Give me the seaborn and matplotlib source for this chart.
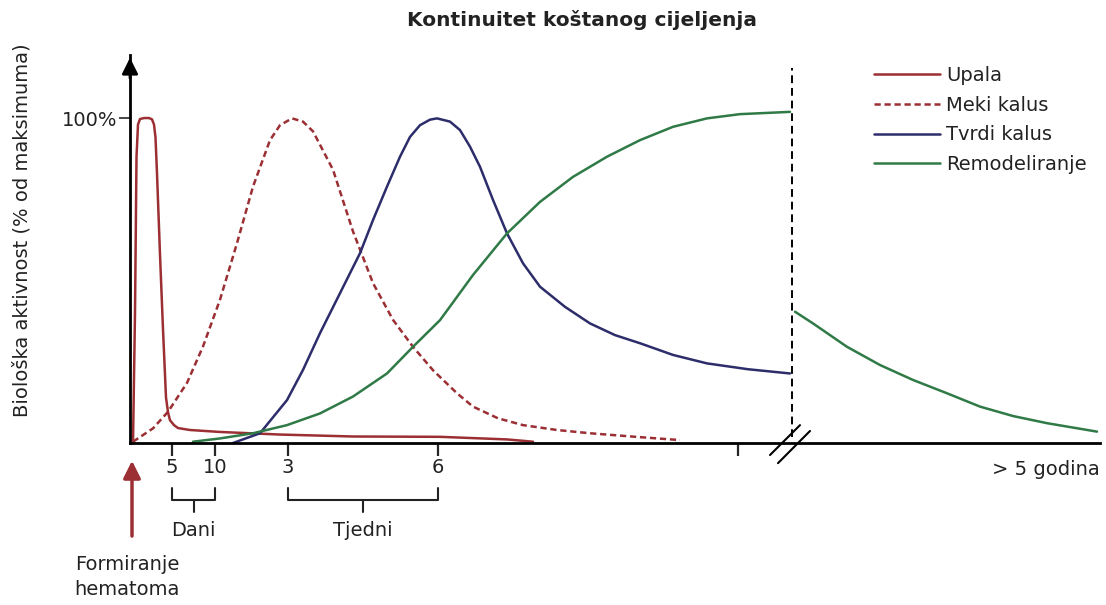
import matplotlib
matplotlib.use("Agg")
import matplotlib.pyplot as plt
import seaborn as sns

# --- curves (x in layout units, y in % of maximum) --------------------------
UPALA_X = [3, 5, 6.5, 8, 10, 14, 19, 22, 24, 25.5, 27, 30, 33, 36, 38, 40, 44, 48,
           60, 90, 150, 223, 310, 377, 403]
UPALA_Y = [0, 40, 88, 98, 99.7, 100, 100, 99.6, 98, 94, 83, 58, 35, 14, 9.5, 7, 5.5,
           4.6, 4, 3.4, 2.6, 2.0, 1.9, 1.1, 0.4]

MEKI_X = [3, 23, 38, 57, 73, 90, 107, 123, 140, 150, 162, 173, 183, 203, 223, 243,
          263, 283, 303, 327, 343, 368, 393, 427, 460, 510, 550]
MEKI_Y = [0.4, 4.5, 9.6, 18.5, 29.7, 44.1, 61.5, 78.9, 93.2, 97.8, 99.9, 98.9, 95.9,
          84.1, 65.1, 49.2, 37.9, 29.6, 22.4, 15.3, 11.2, 7.6, 5.5, 4.0, 3.0, 1.8, 0.9]

TVRDI_X = [103, 130, 157, 173, 190, 210, 230, 243, 257, 270, 280, 290, 300, 307, 320,
           330, 340, 350, 363, 377, 393, 410, 435, 460, 485, 510, 543, 577, 618, 660]
TVRDI_Y = [0, 3.0, 13.2, 22.5, 33.8, 46.1, 58.4, 68.6, 78.9, 88.1, 94.2, 97.8, 99.5,
           99.9, 98.9, 96.3, 91.2, 85.0, 74.8, 64.5, 55.3, 48.1, 41.9, 36.8, 33.2, 30.7,
           27.1, 24.5, 22.7, 21.4]

REMOD_X = [63, 90, 123, 157, 190, 223, 257, 283, 310, 343, 377, 410, 443, 477, 510,
           543, 577, 610, 660]
REMOD_Y = [0.4, 1.4, 3.0, 5.5, 9.1, 14.3, 21.4, 29.6, 37.8, 51.7, 64.5, 74.2, 81.9,
           88.1, 93.2, 97.3, 99.9, 101.2, 101.9]

# after the axis break (> 5 years)
REMOD2_X = [665, 683, 717, 750, 783, 817, 850, 883, 917, 967]
REMOD2_Y = [40.4, 36.8, 29.6, 24.0, 19.4, 15.3, 11.2, 8.3, 6.1, 3.5]

TICK_POS = [42, 85, 158, 308, 608]
TICK_LABELS = ["5", "10", "3", "6", ""]
BREAK_X = 662
X_MAX, Y_MAX = 970, 119.4

RED = "#9b2f33"
NAVY = "#2c2d6a"
GREEN = "#2f7a46"
TXT = "#222222"

sns.set_style("white")
plt.rcParams["font.family"] = ["DejaVu Sans"]

fig = plt.figure(figsize=(11.06, 6.05), dpi=100)
ax = fig.add_axes([130 / 1106, 162 / 605, 970 / 1106, 388 / 605])

sns.lineplot(x=UPALA_X, y=UPALA_Y, ax=ax, color=RED, lw=1.8, label="Upala")
sns.lineplot(x=MEKI_X, y=MEKI_Y, ax=ax, color=RED, lw=1.8, ls=(0, (2.5, 1.5)),
             label="Meki kalus")
sns.lineplot(x=TVRDI_X, y=TVRDI_Y, ax=ax, color=NAVY, lw=1.8, label="Tvrdi kalus")
sns.lineplot(x=REMOD_X, y=REMOD_Y, ax=ax, color=GREEN, lw=1.8, label="Remodeliranje")
sns.lineplot(x=REMOD2_X, y=REMOD2_Y, ax=ax, color=GREEN, lw=1.8)
for ln in ax.lines:
    ln.set_clip_on(False)
    ln.set_solid_joinstyle("round")

ax.set_xlim(0, X_MAX)
ax.set_ylim(0, Y_MAX)
sns.despine(ax=ax)
for s in ("left", "bottom"):
    ax.spines[s].set_linewidth(2)
    ax.spines[s].set_color("black")

ax.set_yticks([100])
ax.set_yticklabels(["100%"], fontsize=14, color=TXT)
ax.set_xticks(TICK_POS)
ax.set_xticklabels(TICK_LABELS, fontsize=14, color=TXT)
ax.tick_params(axis="x", direction="out", length=9, width=1.6, pad=2, bottom=True)
ax.tick_params(axis="y", direction="out", length=8, width=1.2, pad=1, left=True)

# arrow at the top of the y axis
ax.annotate("", xy=(0, Y_MAX), xytext=(0, Y_MAX - 8),
            arrowprops=dict(arrowstyle="-|>", color="black", lw=2, mutation_scale=24),
            annotation_clip=False)

# dashed line marking the axis break, and the break marks
ax.plot([BREAK_X, BREAK_X], [1.8, 115.4], color="black", lw=1.4,
        ls=(0, (4, 2.5)), clip_on=False)
ax.plot([653, 667], [0, 0], color="white", lw=4, clip_on=False, solid_capstyle="butt")
ax.plot([640, 670], [-3.7, 5.5], color="black", lw=1.5, clip_on=False)
ax.plot([648, 680], [-6.2, 3.7], color="black", lw=1.5, clip_on=False)

ax.text(X_MAX, -5.2, "> 5 godina", ha="right", va="top", fontsize=14, color=TXT)


def bracket(x0, x1, label):
    kw = dict(color=TXT, lw=1.5, clip_on=False)
    ax.plot([x0, x0, x1, x1], [-13.8, -17.5, -17.5, -13.8], **kw)
    mid = (x0 + x1) / 2
    ax.plot([mid, mid], [-17.5, -21.2], **kw)
    ax.text(mid, -26.8, label, ha="center", va="center", fontsize=14, color=TXT)


bracket(TICK_POS[0], TICK_POS[1], "Dani")
bracket(TICK_POS[2], TICK_POS[3], "Tjedni")

# hematoma formation arrow
ax.annotate("", xy=(2, -4.6), xytext=(2, -29.5),
            arrowprops=dict(arrowstyle="-|>", color=RED, lw=2.5, mutation_scale=26),
            annotation_clip=False)
ax.text(-3, -41.2, "Formiranje\nhematoma", ha="center", va="center",
        fontsize=14, color=TXT, linespacing=1.35)

fig.text(582 / 1106, 1 - 20 / 605, "Kontinuitet koštanog cijeljenja",
         ha="center", va="center", fontsize=14.5, fontweight="bold", color=TXT)
fig.text(22 / 1106, 1 - 230 / 605, "Biološka aktivnost (% od maksimuma)",
         rotation=90, ha="center", va="center", fontsize=14, color=TXT)

leg = ax.legend(loc="upper left", bbox_to_anchor=(874 / 1106, 1 - 66 / 605),
                bbox_transform=fig.transFigure, frameon=False, fontsize=14,
                handlelength=3.4, handletextpad=0.3, labelspacing=0.55,
                borderaxespad=0, borderpad=0)
for t in leg.get_texts():
    t.set_color(TXT)

fig.savefig("out.png", dpi=100)
